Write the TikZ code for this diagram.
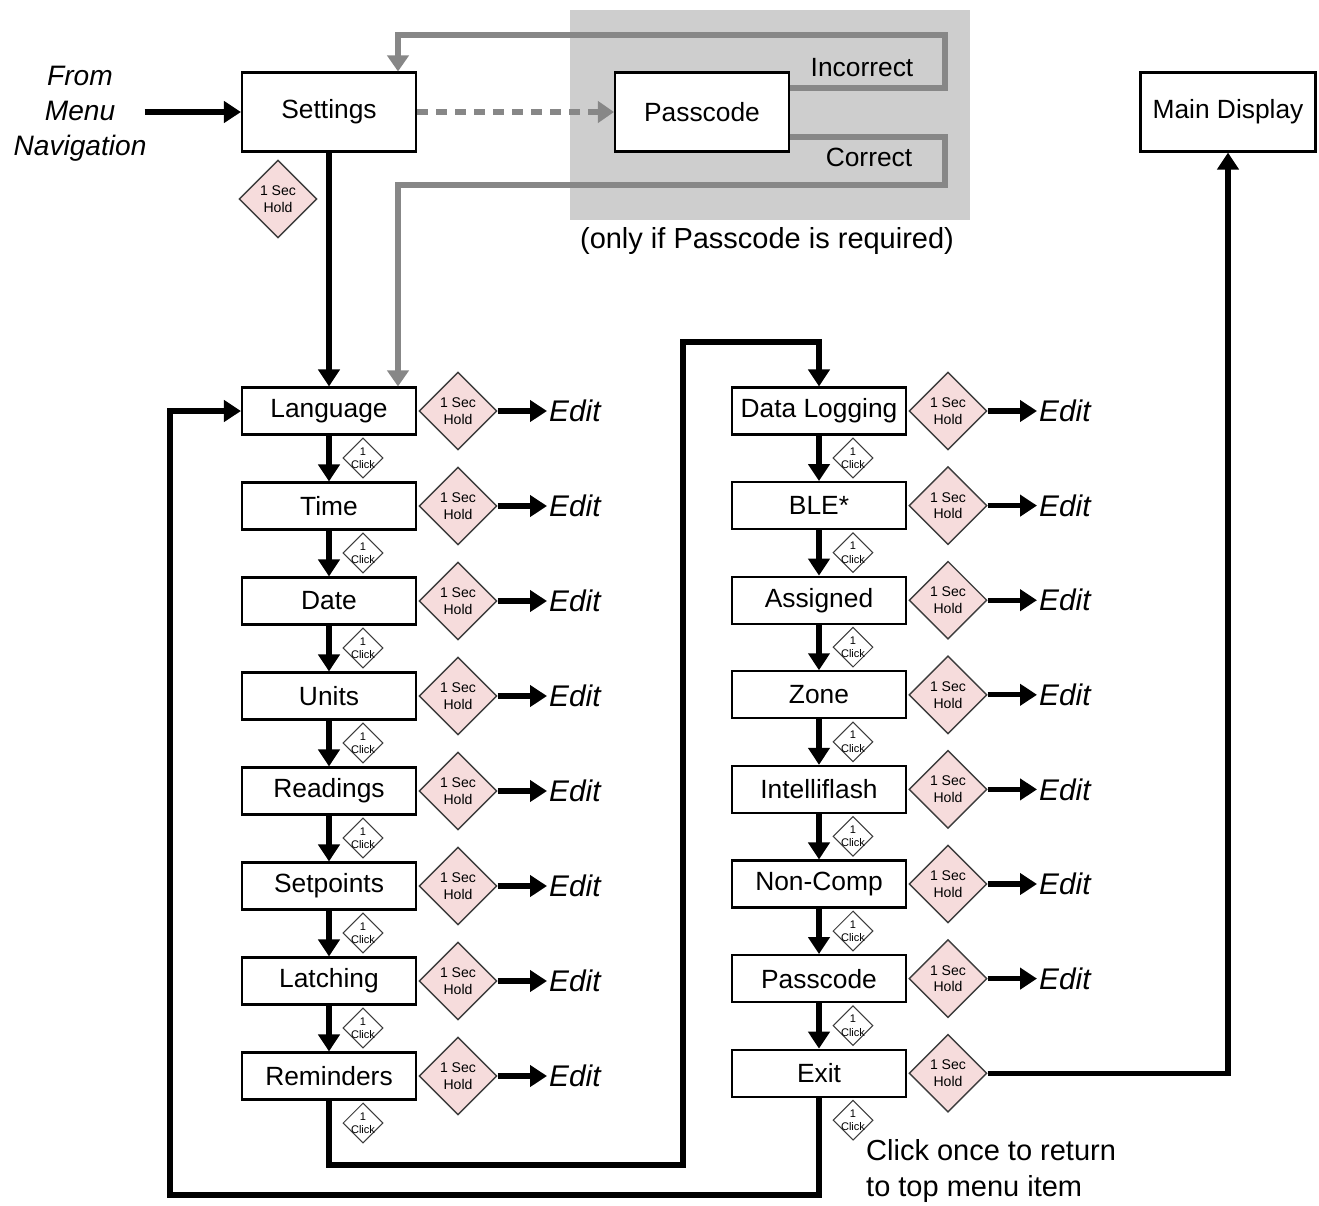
\documentclass[tikz,border=0pt]{standalone}
\usepackage{fontspec}
\setmainfont{Liberation Sans}
\usetikzlibrary{shapes.geometric, arrows.meta, calc}

\begin{document}
\begin{tikzpicture}[x=0.02cm, y=-0.02cm,
    menubox/.style={draw, line width=1.2pt, fill=white, minimum width=3.48cm, minimum height=0.94cm, inner sep=0pt, font=\fontsize{15}{18}\selectfont},
    topbox/.style={menubox, minimum height=1.58cm},
    holdmark/.style={diamond, draw=inkgrey, line width=0.8pt, fill=holdpink, minimum size=1.56cm, inner sep=0pt, align=center, font=\fontsize{8}{9.6}\selectfont},
    clickmark/.style={diamond, draw=inkgrey, line width=0.6pt, fill=white, minimum size=0.8cm, inner sep=-1.5pt, align=center, font=\fontsize{6.3}{7.6}\selectfont},
    edittag/.style={anchor=west, inner sep=1pt, font=\fontsize{17}{20}\selectfont\itshape},
    flowline/.style={line width=3pt, -{Triangle[length=0.34cm, width=0.42cm]}},
    greyline/.style={line width=3.2pt, draw=linegrey, -{Triangle[length=0.32cm, width=0.42cm]}},
    note/.style={font=\fontsize{16.5}{20}\selectfont}
]

% Define colors - close to the reference
\definecolor{holdpink}{RGB}{246,220,220}
\definecolor{panelgrey}{RGB}{206,206,206}
\definecolor{linegrey}{RGB}{135,135,135}
\definecolor{inkgrey}{RGB}{60,60,60}

\useasboundingbox (0,0) rectangle (1319,1205);

% Grey panel behind the passcode check
\fill[panelgrey] (570,10) rectangle (970,220);

% Top row
\node[topbox] (settings) at (329,112) {Settings};
\node[topbox] (pass) at (702,112) {Passcode};
\node[topbox, minimum width=3.5cm] (main) at (1228,112) {Main Display};
\node[note, font=\fontsize{16}{19.8}\selectfont\itshape, align=center] (from) at (80,114) {From\\Menu\\Navigation};
\node[holdmark] (sethold) at (278,199) {1 Sec\\Hold};
\node[note, font=\fontsize{15}{18}\selectfont] (incorrect) at (862,68) {Incorrect};
\node[note, font=\fontsize{15}{18}\selectfont] (correct) at (869,157) {Correct};
\node[note] (onlyif) at (767,241) {(only if Passcode is required)};

% Left column
\foreach \txt [count=\i] in {Language,Time,Date,Units,Readings,Setpoints,Latching,Reminders} {
    \pgfmathsetmacro{\yrow}{411+(\i-1)*95}
    \node[menubox] (L\i) at (329,\yrow) {\txt};
    \node[holdmark] (LH\i) at (458,\yrow) {1 Sec\\Hold};
    \node[edittag] (LE\i) at (547,\yrow) {Edit};
    \draw[flowline] (LH\i) -- (LE\i);
    \node[clickmark] (LC\i) at (363,\yrow+47) {1\\Click};
}

% Right column
\foreach \txt [count=\i] in {Data Logging,BLE*,Assigned,Zone,Intelliflash,Non-Comp,Passcode,Exit} {
    \pgfmathsetmacro{\yrow}{411+(\i-1)*94.6}
    \node[menubox] (R\i) at (819,\yrow) {\txt};
    \node[holdmark] (RH\i) at (948,\yrow) {1 Sec\\Hold};
    \ifnum\i<8
        \node[edittag] (RE\i) at (1037,\yrow) {Edit};
        \draw[flowline] (RH\i) -- (RE\i);
    \fi
    \node[clickmark] (RC\i) at (853,\yrow+47) {1\\Click};
}

% Down the columns
\foreach \i [evaluate=\i as \j using int(\i+1)] in {1,...,7} {
    \draw[flowline] (L\i) -- (L\j);
    \draw[flowline] (R\i) -- (R\j);
}

% Entry and passcode paths
\draw[flowline] ($(from.east |- settings.west)+(-8,0)$) -- (settings.west);
\draw[flowline] (settings) -- (L1);
\draw[greyline, dash pattern=on 0.22cm off 0.16cm] (settings) -- (pass);
\draw[greyline] ($(pass.east)+(0,-24)$) -| (945,35) -| ($(settings.north)+(69,0)$);
\draw[greyline] ($(pass.east)+(0,25)$) -| (945,185) -| ($(L1.north)+(69,0)$);

% Links between columns
\draw[flowline] (L8.south) |- (683,1165) -- (683,342) -| (R1.north);
\draw[flowline] (R8.south) |- (170,1195) |- (L1.west);
\draw[flowline] (RH8) -| (main);

\node[note, anchor=west, align=left] (back) at (860,1171) {Click once to return\\to top menu item};

\end{tikzpicture}
\end{document}
